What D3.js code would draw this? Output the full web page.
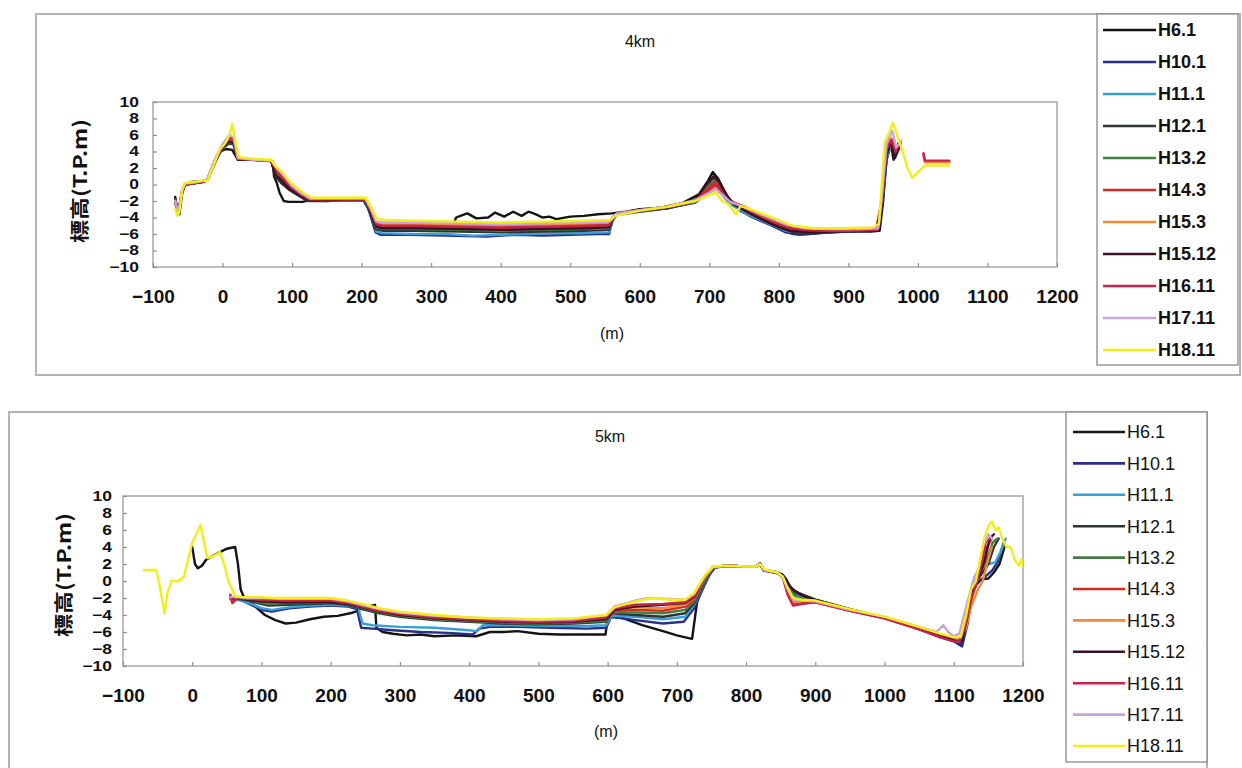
<!DOCTYPE html>
<html>
<head>
<meta charset="utf-8">
<script src="https://cdn.jsdelivr.net/npm/d3@7"></script>
<style>
  html, body { margin: 0; padding: 0; background: #ffffff; }
  svg { display: block; }
  text { font-family: "Liberation Sans", Arial, "Noto Sans", sans-serif; fill: #111; }
  .ytitle { font-family: "Noto Sans CJK JP", "Noto Sans CJK SC", sans-serif; font-weight: bold; }
</style>
</head>
<body>
<svg id="chart" width="1242" height="768"></svg>
<script>
// ---- categories / tick labels ----
const seriesNames = ["H6.1", "H10.1", "H11.1", "H12.1", "H13.2", "H14.3", "H15.3", "H15.12", "H16.11", "H17.11", "H18.11"];
const seriesColors = ["#141414", "#2a2e86", "#3a9fd8", "#2f3430", "#3f8040", "#d42a22", "#ee8a3a", "#3e1226", "#c8244a", "#c6a6d2", "#f2ee1a"];
const xTickValues = [-100, 0, 100, 200, 300, 400, 500, 600, 700, 800, 900, 1000, 1100, 1200];
const yTickValues = [-10, -8, -6, -4, -2, 0, 2, 4, 6, 8, 10];
const chartTitles = ["4km", "5km"];
const yAxisTitle = "標高(T.P.m)";
const xAxisTitle = "(m)";

// ---- 4km cross-section, [distance (m), elevation (T.P.m)]; null breaks a line ----
const km4_H6_1 = [[-68,-1.5],[-66,-3.2],[-62,-3.6],[-58,-1.0],[-54,0.0],[-45,0.3],[-30,0.4],[-22,0.5],[-10,2.8],[-3,4.0],[5,4.3],[14,4.2],[18,3.6],[22,3.0],[40,3.0],[60,2.9],[72,2.8],[74,1.0],[78,0.2],[82,-1.0],[88,-2.0],[95,-2.1],[115,-2.1],[125,-1.9],[150,-1.8],[180,-1.8],[202,-1.8],[210,-3.0],[218,-5.0],[225,-5.3],[260,-5.3],[300,-5.3],[330,-5.2],[336,-4.0],[345,-3.7],[352,-3.5],[365,-4.1],[382,-4.0],[392,-3.4],[405,-3.9],[418,-3.3],[430,-3.8],[440,-3.3],[450,-3.6],[460,-4.0],[470,-3.9],[480,-4.2],[500,-3.9],[520,-3.8],[540,-3.6],[560,-3.5],[580,-3.3],[600,-3.0],[630,-2.8],[660,-2.3],[685,-1.2],[697,0.3],[705,1.5],[712,0.8],[720,-0.5],[730,-2.0],[745,-3.2],[770,-4.2],[800,-5.3],[820,-6.0],[840,-6.0],[870,-5.8],[900,-5.6],[930,-5.7],[945,-5.6],[950,-2.0],[956,4.5],[960,5.5],[965,3.0],[970,4.5],[975,5.0]];
const km4_H10_1 = [[-68,-2.0],[-64,-3.6],[-58,-0.8],[-54,0.0],[-30,0.3],[-22,0.5],[-10,3.0],[0,4.5],[10,5.2],[16,5.0],[22,3.1],[45,3.0],[70,2.9],[76,1.2],[85,0.3],[95,-0.3],[110,-1.2],[122,-1.9],[150,-1.9],[180,-1.9],[205,-1.9],[212,-3.5],[220,-5.8],[228,-6.1],[270,-6.1],[320,-6.2],[380,-6.3],[420,-6.1],[460,-6.2],[500,-6.1],[540,-6.0],[556,-6.0],[560,-4.5],[566,-3.7],[600,-3.3],[640,-2.9],[680,-2.2],[700,-0.8],[710,-0.3],[718,-1.0],[730,-2.3],[760,-3.9],[790,-5.0],[810,-5.8],[830,-6.1],[860,-5.9],[900,-5.7],[940,-5.6],[948,-3.0],[955,3.0],[962,5.0],[968,4.0],[975,5.2]];
const km4_H11_1 = [[-68,-2.2],[-64,-3.7],[-58,-0.7],[-54,0.1],[-30,0.3],[-22,0.6],[-10,3.1],[0,4.6],[10,5.4],[16,5.0],[22,3.2],[45,3.0],[70,2.9],[77,1.3],[86,0.3],[96,-0.5],[110,-1.3],[122,-1.9],[150,-2.0],[180,-1.9],[205,-1.9],[213,-3.6],[221,-5.7],[230,-5.9],[270,-6.0],[320,-6.0],[360,-6.2],[400,-6.1],[440,-6.0],[480,-5.9],[520,-5.9],[556,-5.8],[561,-4.4],[567,-3.6],[600,-3.2],[640,-2.8],[680,-2.1],[700,-0.9],[710,-0.4],[718,-1.2],[730,-2.4],[760,-3.8],[790,-4.9],[810,-5.6],[830,-5.9],[860,-5.8],[900,-5.6],[940,-5.6],[948,-2.5],[955,3.2],[962,5.1],[968,4.2],[975,5.0]];
const km4_H12_1 = [[-68,-1.8],[-64,-3.5],[-58,-0.9],[-54,0.0],[-30,0.3],[-22,0.5],[-10,3.0],[0,4.4],[10,5.0],[16,4.8],[22,3.0],[45,3.0],[70,2.9],[76,1.0],[84,0.2],[95,-0.6],[110,-1.4],[122,-2.0],[150,-2.0],[180,-1.9],[205,-1.9],[212,-3.4],[220,-5.4],[230,-5.6],[280,-5.6],[340,-5.7],[400,-5.8],[460,-5.7],[520,-5.6],[556,-5.5],[562,-4.0],[568,-3.6],[600,-3.2],[640,-2.9],[680,-2.0],[695,-0.5],[705,0.8],[714,0.0],[724,-1.5],[740,-2.6],[770,-4.0],[800,-5.2],[825,-5.9],[850,-5.9],[890,-5.7],[940,-5.6],[948,-2.0],[954,4.0],[960,5.5],[966,3.5],[972,5.0]];
const km4_H13_2 = [[-68,-1.8],[-64,-3.4],[-58,-0.8],[-54,0.0],[-30,0.3],[-22,0.5],[-10,3.0],[0,4.4],[10,5.1],[16,4.9],[22,3.0],[45,3.0],[70,2.9],[77,1.4],[86,0.5],[96,-0.4],[110,-1.3],[123,-1.9],[150,-1.9],[180,-1.9],[205,-1.9],[213,-3.3],[221,-5.2],[230,-5.4],[280,-5.4],[340,-5.5],[400,-5.6],[460,-5.5],[520,-5.4],[556,-5.3],[562,-4.0],[568,-3.6],[600,-3.2],[640,-2.8],[680,-2.0],[698,-0.2],[708,0.5],[716,-0.3],[726,-1.7],[745,-2.8],[775,-4.1],[805,-5.2],[830,-5.7],[860,-5.7],[900,-5.6],[940,-5.5],[948,-2.0],[955,4.0],[962,5.0],[968,3.8],[974,4.8]];
const km4_H14_3 = [[-68,-2.0],[-64,-3.6],[-58,-0.8],[-54,0.0],[-30,0.3],[-22,0.5],[-10,3.0],[0,4.6],[10,5.6],[16,5.3],[22,3.1],[45,3.0],[70,2.9],[78,1.6],[88,0.6],[98,-0.4],[112,-1.3],[124,-1.9],[150,-1.9],[180,-1.8],[205,-1.8],[213,-3.2],[221,-4.9],[230,-5.1],[280,-5.1],[340,-5.2],[400,-5.3],[460,-5.2],[520,-5.1],[556,-5.0],[562,-4.0],[568,-3.6],[600,-3.2],[640,-2.8],[680,-2.0],[698,-0.5],[708,0.3],[716,-0.5],[728,-1.8],[745,-2.7],[775,-3.9],[805,-5.1],[830,-5.6],[860,-5.7],[900,-5.6],[940,-5.5],[948,-2.0],[955,4.2],[962,5.3],[968,4.0],[975,5.0],[990,null],[1008,3.6],[1010,2.8],[1045,2.8]];
const km4_H15_3 = [[-68,-1.9],[-64,-3.5],[-58,-0.7],[-54,0.1],[-30,0.4],[-22,0.6],[-10,3.1],[0,4.8],[10,5.8],[16,5.5],[22,3.2],[45,3.0],[70,2.9],[78,1.9],[90,0.7],[100,-0.3],[114,-1.2],[126,-1.8],[150,-1.8],[180,-1.7],[205,-1.7],[213,-3.0],[221,-4.6],[230,-4.8],[280,-4.8],[340,-4.9],[400,-5.0],[460,-4.9],[520,-4.8],[556,-4.7],[562,-3.9],[568,-3.5],[600,-3.1],[640,-2.7],[680,-1.9],[700,-0.8],[710,-0.3],[718,-1.0],[730,-2.0],[750,-2.7],[780,-3.9],[810,-5.0],[835,-5.4],[870,-5.5],[910,-5.5],[940,-5.4],[948,-2.0],[955,4.5],[962,5.6],[968,4.2],[975,5.2],[990,null],[1010,2.7],[1045,2.7]];
const km4_H15_12 = [[-68,-1.8],[-64,-3.5],[-58,-0.8],[-54,0.0],[-30,0.3],[-22,0.5],[-10,3.0],[0,4.5],[10,5.2],[16,5.0],[22,3.0],[45,3.0],[70,2.9],[76,1.2],[86,0.4],[96,-0.5],[110,-1.3],[123,-1.9],[150,-1.9],[180,-1.8],[205,-1.8],[213,-3.3],[221,-5.1],[230,-5.3],[280,-5.3],[340,-5.4],[400,-5.5],[460,-5.4],[520,-5.3],[556,-5.2],[562,-4.0],[568,-3.6],[600,-3.2],[640,-2.8],[680,-1.8],[696,0.0],[706,1.0],[714,0.3],[722,-1.0],[735,-2.4],[760,-3.6],[790,-4.8],[815,-5.6],[845,-5.8],[880,-5.7],[940,-5.6],[948,-2.5],[955,3.5],[961,5.2],[967,3.2],[974,4.6]];
const km4_H16_11 = [[-68,-1.9],[-64,-3.6],[-58,-0.8],[-54,0.0],[-30,0.3],[-22,0.5],[-10,3.0],[0,4.7],[10,5.7],[16,5.4],[22,3.1],[45,3.0],[70,2.9],[78,1.7],[89,0.7],[99,-0.3],[113,-1.2],[125,-1.8],[150,-1.8],[180,-1.8],[205,-1.8],[213,-3.1],[221,-4.8],[230,-5.0],[280,-5.0],[340,-5.1],[400,-5.2],[460,-5.1],[520,-5.0],[556,-4.9],[562,-3.9],[568,-3.5],[600,-3.1],[640,-2.7],[680,-1.9],[700,-0.6],[709,0.0],[717,-0.8],[728,-2.0],[748,-2.6],[778,-3.8],[808,-5.0],[833,-5.5],[865,-5.6],[905,-5.6],[942,-5.5],[948,-2.0],[955,4.3],[962,5.4],[968,4.0],[975,5.1],[990,null],[1008,3.8],[1010,2.9],[1045,2.9]];
const km4_H17_11 = [[-68,-2.0],[-64,-3.5],[-58,-0.7],[-54,0.1],[-30,0.4],[-22,0.6],[-10,3.2],[0,4.9],[10,6.0],[16,5.7],[22,3.2],[45,3.0],[70,2.9],[78,2.0],[90,0.9],[100,-0.2],[114,-1.1],[126,-1.7],[150,-1.7],[180,-1.7],[205,-1.7],[213,-2.9],[221,-4.5],[230,-4.6],[280,-4.6],[340,-4.7],[400,-4.8],[460,-4.7],[520,-4.6],[556,-4.5],[562,-3.8],[568,-3.5],[600,-3.1],[640,-2.7],[680,-1.9],[700,-1.0],[710,-0.6],[718,-1.2],[730,-2.1],[752,-2.8],[782,-3.9],[812,-4.9],[838,-5.3],[875,-5.4],[915,-5.4],[943,-5.3],[948,-1.5],[955,5.0],[963,6.5],[969,4.5],[976,5.3]];
const km4_H18_11 = [[-68,-3.0],[-65,-3.8],[-62,-3.3],[-58,-0.6],[-54,0.2],[-40,0.3],[-30,0.5],[-22,0.4],[-12,2.5],[-4,4.2],[4,5.0],[10,6.0],[14,7.3],[17,6.0],[20,4.5],[24,3.3],[45,3.1],[70,3.0],[76,2.2],[85,1.6],[95,0.5],[104,-0.2],[116,-1.0],[128,-1.6],[150,-1.6],[180,-1.6],[206,-1.6],[214,-2.8],[222,-4.2],[235,-4.3],[280,-4.4],[340,-4.5],[400,-4.6],[460,-4.5],[520,-4.4],[558,-4.3],[565,-3.8],[600,-3.2],[640,-2.7],[680,-2.0],[700,-1.3],[710,-1.0],[718,-2.0],[728,-2.4],[738,-3.6],[745,-2.6],[760,-3.0],[790,-4.0],[820,-5.0],[850,-5.3],[890,-5.3],[935,-5.2],[944,-4.8],[948,0.0],[952,5.0],[958,6.2],[964,7.5],[970,6.0],[978,4.0],[985,2.0],[992,0.8],[1000,1.5],[1010,2.3],[1030,2.3],[1045,2.3]];

// ---- 5km cross-section ----
const km5_H6_1 = [[0,4.0],[4,2.0],[8,1.5],[14,1.8],[20,2.5],[35,3.2],[50,3.8],[62,4.0],[66,2.0],[70,-1.0],[74,-1.8],[85,-2.5],[95,-3.3],[105,-4.0],[120,-4.6],[135,-5.0],[150,-4.9],[170,-4.5],[190,-4.2],[210,-4.1],[228,-3.8],[240,-3.5],[245,-3.1],[255,-3.0],[264,-2.8],[266,-5.5],[275,-6.0],[290,-6.2],[310,-6.4],[330,-6.3],[350,-6.5],[380,-6.4],[410,-6.5],[430,-6.0],[450,-6.0],[470,-5.9],[500,-6.2],[530,-6.3],[560,-6.3],[597,-6.3],[600,-4.2],[620,-4.3],[650,-5.2],[680,-5.9],[700,-6.4],[722,-6.8],[730,-2.0],[735,-1.0],[745,0.5],[755,1.6],[770,1.8],[800,1.7],[815,1.7],[820,2.1],[825,1.3],[840,1.0],[852,0.8],[858,0.2],[866,-1.0],[880,-1.6],[900,-2.2],[950,-3.3],[1000,-4.3],[1050,-5.5],[1080,-6.5],[1100,-7.0],[1110,-7.5],[1118,-5.0],[1124,-2.0],[1132,-0.5],[1140,0.2],[1150,0.3],[1158,1.0],[1166,2.0],[1174,4.2]];
const km5_H10_1 = [[55,-2.0],[70,-2.2],[85,-2.8],[100,-3.4],[115,-3.6],[140,-3.2],[170,-3.0],[200,-2.9],[225,-3.0],[238,-3.3],[244,-5.5],[260,-5.6],[290,-5.8],[330,-6.0],[370,-6.1],[405,-6.3],[415,-5.6],[430,-5.4],[470,-5.4],[520,-5.5],[570,-5.6],[598,-5.5],[605,-4.2],[640,-4.6],[680,-5.0],[710,-4.8],[725,-3.2],[740,-0.5],[752,1.5],[770,1.8],[800,1.7],[815,1.7],[820,2.0],[826,1.2],[845,1.0],[855,0.3],[862,-1.2],[880,-1.9],[900,-2.3],[950,-3.4],[1000,-4.3],[1050,-5.6],[1080,-6.6],[1100,-7.1],[1112,-7.7],[1120,-5.0],[1126,-1.5],[1134,-0.2],[1145,0.5],[1155,1.2],[1163,2.2],[1172,4.5]];
const km5_H11_1 = [[55,-2.1],[70,-2.3],[85,-2.7],[100,-3.2],[115,-3.4],[140,-3.1],[170,-2.9],[200,-2.8],[225,-2.9],[240,-3.2],[246,-5.0],[260,-5.2],[300,-5.4],[350,-5.5],[400,-5.8],[410,-5.9],[420,-5.2],[460,-5.2],[520,-5.3],[570,-5.3],[598,-5.2],[605,-4.1],[640,-4.2],[680,-4.5],[712,-4.2],[725,-2.8],[740,-0.3],[752,1.6],[770,1.8],[800,1.7],[815,1.7],[820,2.0],[826,1.3],[845,1.0],[855,0.2],[862,-1.3],[880,-2.0],[900,-2.3],[950,-3.4],[1000,-4.3],[1050,-5.6],[1080,-6.5],[1100,-7.0],[1110,-7.2],[1118,-4.0],[1124,-1.5],[1130,0.5],[1140,1.5],[1150,2.0],[1160,2.2],[1168,3.5],[1175,5.0]];
const km5_H12_1 = [[55,-2.0],[70,-2.1],[90,-2.5],[110,-2.9],[140,-2.8],[170,-2.7],[200,-2.6],[225,-2.8],[245,-3.3],[270,-3.8],[300,-4.2],[350,-4.6],[400,-4.8],[450,-5.0],[500,-5.1],[550,-5.0],[598,-4.8],[605,-3.8],[640,-4.0],[680,-4.2],[712,-3.8],[725,-2.6],[740,-0.2],[752,1.6],[770,1.8],[800,1.7],[815,1.7],[820,2.0],[826,1.3],[845,1.0],[853,0.6],[860,-0.5],[875,-1.4],[900,-2.2],[950,-3.3],[1000,-4.3],[1050,-5.5],[1080,-6.4],[1105,-7.0],[1112,-6.8],[1120,-3.5],[1128,-0.5],[1140,0.8],[1150,2.0],[1158,4.0],[1165,5.0]];
const km5_H13_2 = [[55,-2.0],[70,-2.1],[90,-2.4],[110,-2.7],[140,-2.6],[170,-2.6],[200,-2.5],[225,-2.7],[245,-3.2],[270,-3.7],[300,-4.1],[350,-4.5],[400,-4.7],[450,-4.9],[500,-5.0],[550,-4.9],[598,-4.7],[605,-3.7],[640,-3.7],[680,-3.8],[712,-3.4],[725,-2.4],[740,0.0],[752,1.6],[770,1.8],[800,1.7],[815,1.7],[820,2.0],[826,1.3],[845,1.0],[853,0.5],[860,-1.0],[875,-2.0],[900,-2.3],[950,-3.4],[1000,-4.3],[1050,-5.5],[1080,-6.4],[1105,-7.0],[1112,-6.6],[1120,-3.0],[1130,0.0],[1140,1.2],[1150,3.0],[1156,4.5],[1163,5.0]];
const km5_H14_3 = [[55,-1.6],[58,-2.6],[65,-2.0],[80,-2.1],[100,-2.3],[130,-2.4],[160,-2.4],[200,-2.4],[225,-2.6],[245,-3.0],[270,-3.5],[300,-3.9],[350,-4.3],[400,-4.6],[450,-4.8],[500,-4.8],[550,-4.7],[598,-4.4],[610,-3.5],[640,-3.4],[680,-3.5],[712,-3.0],[725,-2.2],[740,0.2],[752,1.6],[770,1.8],[800,1.7],[815,1.7],[820,2.0],[826,1.3],[845,1.0],[853,0.5],[860,-1.5],[868,-2.8],[880,-2.6],[900,-2.5],[950,-3.5],[1000,-4.4],[1050,-5.7],[1080,-6.6],[1100,-7.0],[1110,-7.1],[1118,-5.0],[1125,-2.0],[1133,0.0],[1140,1.5],[1148,4.0],[1155,5.0]];
const km5_H15_3 = [[55,-2.0],[65,-1.9],[80,-2.0],[100,-2.1],[130,-2.2],[160,-2.2],[200,-2.2],[225,-2.5],[245,-2.9],[270,-3.4],[300,-3.8],[350,-4.2],[400,-4.5],[450,-4.6],[500,-4.7],[550,-4.6],[598,-4.2],[610,-3.3],[640,-3.1],[680,-3.2],[712,-2.8],[725,-2.0],[740,0.3],[752,1.6],[770,1.8],[800,1.7],[815,1.7],[820,2.0],[826,1.3],[845,1.0],[853,0.5],[860,-1.3],[868,-2.5],[880,-2.4],[900,-2.4],[950,-3.4],[1000,-4.3],[1050,-5.6],[1080,-6.5],[1100,-6.9],[1110,-6.9],[1118,-5.5],[1125,-3.0],[1135,-1.0],[1142,0.0],[1148,2.0],[1155,4.0]];
const km5_H15_12 = [[55,-2.0],[65,-2.1],[80,-2.2],[100,-2.4],[130,-2.5],[160,-2.5],[200,-2.5],[225,-2.7],[245,-3.1],[270,-3.6],[300,-4.0],[350,-4.4],[400,-4.6],[450,-4.8],[500,-4.9],[550,-4.8],[598,-4.5],[610,-3.4],[640,-3.0],[680,-2.8],[712,-2.6],[725,-1.9],[740,0.4],[752,1.6],[770,1.8],[800,1.7],[815,1.7],[820,2.0],[826,1.3],[845,1.0],[853,0.7],[860,-0.3],[870,-1.2],[885,-1.8],[900,-2.3],[950,-3.4],[1000,-4.3],[1050,-5.6],[1080,-6.5],[1100,-7.0],[1112,-7.1],[1120,-4.0],[1128,-1.0],[1136,0.5],[1145,2.5],[1152,5.0],[1158,5.5]];
const km5_H16_11 = [[55,-1.8],[58,-2.5],[65,-2.0],[80,-2.1],[100,-2.2],[130,-2.3],[160,-2.3],[200,-2.3],[225,-2.6],[245,-3.0],[270,-3.5],[300,-3.9],[350,-4.3],[400,-4.5],[450,-4.7],[500,-4.8],[550,-4.7],[598,-4.3],[610,-3.2],[640,-2.8],[680,-2.7],[712,-2.5],[725,-1.8],[740,0.5],[752,1.6],[770,1.8],[800,1.7],[815,1.7],[820,2.0],[826,1.3],[845,1.0],[853,0.5],[860,-1.6],[868,-2.9],[880,-2.7],[900,-2.5],[950,-3.5],[1000,-4.4],[1050,-5.7],[1080,-6.6],[1100,-7.1],[1108,-7.1],[1116,-5.5],[1124,-2.5],[1132,-0.5],[1140,2.0],[1146,4.5],[1152,5.0]];
const km5_H17_11 = [[55,-1.9],[65,-1.9],[80,-2.0],[100,-2.0],[130,-2.1],[160,-2.1],[200,-2.1],[225,-2.4],[245,-2.8],[270,-3.3],[300,-3.7],[350,-4.1],[400,-4.3],[450,-4.5],[500,-4.6],[550,-4.5],[598,-4.0],[610,-3.0],[640,-2.3],[660,-2.0],[690,-2.1],[712,-2.2],[725,-1.5],[740,0.5],[752,1.6],[770,1.8],[800,1.7],[815,1.7],[820,2.0],[826,1.3],[845,1.0],[853,0.5],[860,-1.0],[868,-2.2],[880,-2.3],[900,-2.4],[950,-3.4],[1000,-4.2],[1050,-5.4],[1075,-6.0],[1085,-5.2],[1092,-6.0],[1100,-6.5],[1108,-6.2],[1118,-3.0],[1128,0.0],[1136,1.5],[1142,4.0],[1150,5.5],[1155,5.0]];
const km5_H18_11 = [[-70,1.3],[-52,1.3],[-46,-1.0],[-40,-3.8],[-36,-1.5],[-30,0.0],[-20,0.0],[-12,0.5],[-6,2.5],[0,4.5],[6,5.5],[12,6.6],[16,5.0],[22,2.7],[32,3.0],[40,3.4],[46,2.0],[52,0.0],[58,-1.0],[62,-1.8],[70,-1.9],[90,-1.9],[120,-2.0],[160,-2.0],[200,-2.0],[225,-2.3],[245,-2.7],[270,-3.2],[300,-3.6],[350,-4.0],[400,-4.3],[450,-4.4],[500,-4.5],[550,-4.4],[598,-4.0],[610,-3.1],[640,-2.4],[665,-2.0],[690,-2.2],[712,-2.2],[725,-1.4],[740,0.6],[752,1.7],[770,1.8],[800,1.7],[815,1.7],[820,2.0],[826,1.4],[845,1.0],[853,0.5],[860,-0.8],[868,-2.0],[880,-2.2],[900,-2.3],[950,-3.3],[1000,-4.2],[1050,-5.4],[1080,-6.2],[1100,-6.6],[1110,-6.6],[1118,-4.0],[1125,-1.0],[1132,0.0],[1138,2.5],[1144,5.0],[1150,6.5],[1155,7.0],[1160,6.0],[1165,6.3],[1170,5.0],[1176,4.0],[1182,4.0],[1188,2.5],[1194,1.8],[1198,2.6],[1202,1.3]];

const km4Series = [km4_H6_1, km4_H10_1, km4_H11_1, km4_H12_1, km4_H13_2, km4_H14_3, km4_H15_3, km4_H15_12, km4_H16_11, km4_H17_11, km4_H18_11];
const km5Series = [km5_H6_1, km5_H10_1, km5_H11_1, km5_H12_1, km5_H13_2, km5_H14_3, km5_H15_3, km5_H15_12, km5_H16_11, km5_H17_11, km5_H18_11];

// ---- layout for the two stacked panels ----
const panels = [
  {
    title: chartTitles[0], series: km4Series,
    frame: { x0: 36, y0: 14, x1: 1240, y1: 375 },
    legend: { x0: 1097, y0: 14, x1: 1238, y1: 365, firstY: 30, step: 32, lineX0: 1103, lineX1: 1156, textX: 1158, weight: "bold" },
    plot: { x0: 153, x1: 1057, y0: 102, y1: 267 },
    titlePos: [640, 47], xTitlePos: [612, 339], yTitlePos: [80, 181], yPad: 14
  },
  {
    title: chartTitles[1], series: km5Series,
    frame: { x0: 9, y0: 412, x1: 1207, y1: 780 },
    legend: { x0: 1066, y0: 412, x1: 1207, y1: 762, firstY: 432, step: 31.4, lineX0: 1073, lineX1: 1125, textX: 1127, weight: "normal" },
    plot: { x0: 123, x1: 1023, y0: 496, y1: 666 },
    titlePos: [610, 442], xTitlePos: [606, 737], yTitlePos: [64, 575], yPad: 11
  }
];

const svg = d3.select("#chart");

function drawPanel(p) {
  const g = svg.append("g");

  // outer chart frame
  g.append("rect")
    .attr("x", p.frame.x0).attr("y", p.frame.y0)
    .attr("width", p.frame.x1 - p.frame.x0).attr("height", p.frame.y1 - p.frame.y0)
    .attr("fill", "#fff").attr("stroke", "#b4b4b4").attr("stroke-width", 2);

  const x = d3.scaleLinear().domain([xTickValues[0], xTickValues[xTickValues.length - 1]]).range([p.plot.x0, p.plot.x1]);
  const y = d3.scaleLinear().domain([yTickValues[0], yTickValues[yTickValues.length - 1]]).range([p.plot.y1, p.plot.y0]);

  // plot area border
  g.append("rect")
    .attr("x", p.plot.x0).attr("y", p.plot.y0)
    .attr("width", p.plot.x1 - p.plot.x0).attr("height", p.plot.y1 - p.plot.y0)
    .attr("fill", "#fff").attr("stroke", "#a8a8a8").attr("stroke-width", 1.5);

  // axes
  const fmt = d => d < 0 ? "\u2212" + Math.abs(d) : String(d);
  const xAxis = d3.axisBottom(x).tickValues(xTickValues).tickSizeInner(-4).tickSizeOuter(0).tickPadding(23).tickFormat(fmt);
  const yAxis = d3.axisLeft(y).tickValues(yTickValues).tickSizeInner(-4).tickSizeOuter(0).tickPadding(p.yPad).tickFormat(fmt);

  const gx = g.append("g").attr("transform", `translate(0,${p.plot.y1})`).call(xAxis);
  const gy = g.append("g").attr("transform", `translate(${p.plot.x0},0)`).call(yAxis);
  [gx, gy].forEach(a => {
    a.select(".domain").remove();
    a.selectAll(".tick line").attr("stroke", "#8c8c8c").attr("stroke-width", 1.2);
    a.selectAll(".tick text").attr("font-weight", "bold").attr("fill", "#111")
      .style("font-family", "'Liberation Sans', Arial, sans-serif");
  });
  gx.selectAll(".tick text").attr("font-size", 19);
  gy.selectAll(".tick text").attr("font-size", 14).attr("transform", "scale(1.25,1)")
    .attr("x", -p.yPad / 1.25);

  // profile lines
  const line = d3.line()
    .defined(d => d[1] !== null)
    .x(d => x(d[0])).y(d => y(d[1]));
  const clipId = "clip" + p.title;
  g.append("clipPath").attr("id", clipId).append("rect")
    .attr("x", p.plot.x0).attr("y", p.plot.y0 - 2)
    .attr("width", p.plot.x1 - p.plot.x0).attr("height", p.plot.y1 - p.plot.y0 + 4);
  g.append("g").attr("clip-path", `url(#${clipId})`)
    .selectAll("path").data(p.series).join("path")
    .attr("d", line)
    .attr("fill", "none")
    .attr("stroke", (d, i) => seriesColors[i])
    .attr("stroke-width", 2.4)
    .attr("stroke-linejoin", "round")
    .attr("stroke-linecap", "round");

  // titles
  g.append("text").attr("x", p.titlePos[0]).attr("y", p.titlePos[1])
    .attr("text-anchor", "middle").attr("font-size", 16).text(p.title);
  g.append("text").attr("x", p.xTitlePos[0]).attr("y", p.xTitlePos[1])
    .attr("text-anchor", "middle").attr("font-size", 16).text(xAxisTitle);
  g.append("text").attr("class", "ytitle")
    .attr("transform", `translate(${p.yTitlePos[0]},${p.yTitlePos[1]}) rotate(-90)`)
    .attr("text-anchor", "middle").attr("dy", "0.35em")
    .attr("font-size", 19)
    .attr("textLength", 124).attr("lengthAdjust", "spacingAndGlyphs")
    .text(yAxisTitle);

  // legend
  const L = p.legend;
  g.append("rect")
    .attr("x", L.x0).attr("y", L.y0).attr("width", L.x1 - L.x0).attr("height", L.y1 - L.y0)
    .attr("fill", "#fff").attr("stroke", "#8a8a8a").attr("stroke-width", 1.3);
  const items = g.append("g").selectAll("g").data(seriesNames).join("g")
    .attr("transform", (d, i) => `translate(0,${L.firstY + i * L.step})`);
  items.append("line")
    .attr("x1", L.lineX0).attr("x2", L.lineX1).attr("y1", 0).attr("y2", 0)
    .attr("stroke", (d, i) => seriesColors[i]).attr("stroke-width", 2.6);
  items.append("text")
    .attr("x", L.textX).attr("y", 0).attr("dy", "0.36em")
    .attr("font-size", 18).attr("font-weight", L.weight).attr("fill", "#111")
    .text(d => d);
}

panels.forEach(drawPanel);
</script>
</body>
</html>
